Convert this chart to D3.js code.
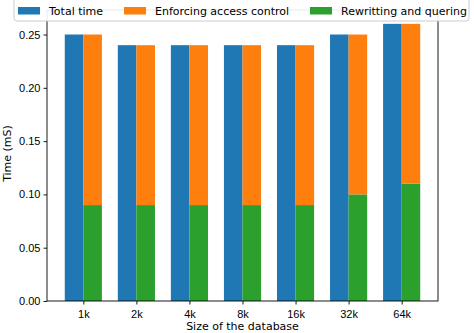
<!DOCTYPE html>
<html>
<head>
<meta charset="utf-8">
<script src="https://cdn.jsdelivr.net/npm/d3@7"></script>
<style>
  body { margin: 0; background: #fff; }
  svg { font-family: "DejaVu Sans", sans-serif; }
  .axis path, .axis line { stroke: #000; stroke-width: 0.9; }
  .axis text { font-size: 11px; fill: #000; }
</style>
</head>
<body>
<div id="chart"></div>
<script>
(function() {
  'use strict';
  var categories = ['1k', '2k', '4k', '8k', '16k', '32k', '64k'],
      totalTime = [0.25, 0.24, 0.24, 0.24, 0.24, 0.25, 0.26],
      rewriting = [0.09, 0.09, 0.09, 0.09, 0.09, 0.10, 0.11],
      enforcing = [0.16, 0.15, 0.15, 0.15, 0.15, 0.15, 0.15],
      yTicks = [0, 0.05, 0.10, 0.15, 0.20, 0.25],
      seriesNames = ['Total time', 'Enforcing access control', 'Rewritting and quering'],
      colors = ['#1f77b4', '#ff7f0e', '#2ca02c'];

  var width = 474, height = 333,
      margin = {top: 10, right: 36, bottom: 32, left: 47},
      barW = 0.35;

  var svg = d3.select('#chart').append('svg')
    .attr('width', width)
    .attr('height', height);

  var x = d3.scaleLinear()
    .domain([-0.685, categories.length - 1 + 0.685])
    .range([margin.left, width - margin.right]);
  var y = d3.scaleLinear()
    .domain([0, 0.273])
    .range([height - margin.bottom, margin.top]);

  var g = svg.append('g');

  // Total time bars (left of each group)
  g.selectAll('rect.total').data(totalTime).enter().append('rect')
    .attr('class', 'total')
    .attr('x', function(d, i) { return x(i - barW); })
    .attr('width', x(barW) - x(0))
    .attr('y', function(d) { return y(d); })
    .attr('height', function(d) { return y(0) - y(d); })
    .attr('fill', colors[0]);

  // Stacked bars: rewriting at bottom, enforcing on top
  g.selectAll('rect.rewrite').data(rewriting).enter().append('rect')
    .attr('class', 'rewrite')
    .attr('x', function(d, i) { return x(i); })
    .attr('width', x(barW) - x(0))
    .attr('y', function(d) { return y(d); })
    .attr('height', function(d) { return y(0) - y(d); })
    .attr('fill', colors[2]);

  g.selectAll('rect.enforce').data(enforcing).enter().append('rect')
    .attr('class', 'enforce')
    .attr('x', function(d, i) { return x(i); })
    .attr('width', x(barW) - x(0))
    .attr('y', function(d, i) { return y(d + rewriting[i]); })
    .attr('height', function(d) { return y(0) - y(d); })
    .attr('fill', colors[1]);

  // Axes
  var xAxis = d3.axisBottom(x)
    .tickValues(d3.range(categories.length))
    .tickFormat(function(i) { return categories[i]; })
    .tickSize(3.5).tickSizeOuter(0);
  svg.append('g')
    .attr('class', 'axis')
    .attr('transform', 'translate(0,' + y(0) + ')')
    .call(xAxis)
    .call(function(s) { s.select('.domain').remove(); s.selectAll('text').attr('dy', '0.95em'); });

  var yAxis = d3.axisLeft(y)
    .tickValues(yTicks)
    .tickFormat(d3.format('.2f'))
    .tickSize(3.5).tickSizeOuter(0);
  svg.append('g')
    .attr('class', 'axis')
    .attr('transform', 'translate(' + margin.left + ',0)')
    .call(yAxis)
    .call(function(s) { s.select('.domain').remove(); });

  // Spines
  svg.append('rect')
    .attr('x', x.range()[0]).attr('y', y.range()[1])
    .attr('width', x.range()[1] - x.range()[0])
    .attr('height', y.range()[0] - y.range()[1])
    .attr('fill', 'none').attr('stroke', '#000').attr('stroke-width', 0.9);

  // Axis labels
  svg.append('text')
    .attr('x', (x.range()[0] + x.range()[1]) / 2)
    .attr('y', 330)
    .attr('text-anchor', 'middle')
    .style('font-size', '11px')
    .text('Size of the database');
  svg.append('text')
    .attr('transform', 'translate(11,' + ((y.range()[0] + y.range()[1]) / 2 - 2) + ') rotate(-90)')
    .attr('text-anchor', 'middle')
    .style('font-size', '11px')
    .text('Time (mS)');

  // Legend
  var legend = svg.append('g');
  legend.append('rect')
    .attr('x', 14).attr('y', -4)
    .attr('width', 455).attr('height', 25)
    .attr('rx', 3)
    .attr('fill', '#fff').attr('fill-opacity', 0.9)
    .attr('stroke', '#ccc').attr('stroke-width', 1);
  var entryX = [18, 124, 310];
  var items = legend.selectAll('g.item').data(seriesNames).enter().append('g')
    .attr('class', 'item')
    .attr('transform', function(d, i) { return 'translate(' + entryX[i] + ',0)'; });
  items.append('rect')
    .attr('x', 0).attr('y', 7)
    .attr('width', 22).attr('height', 7.5)
    .attr('fill', function(d, i) { return colors[i]; });
  items.append('text')
    .attr('x', 31).attr('y', 14.5)
    .style('font-size', '11px')
    .text(function(d) { return d; });
})();
</script>
</body>
</html>
